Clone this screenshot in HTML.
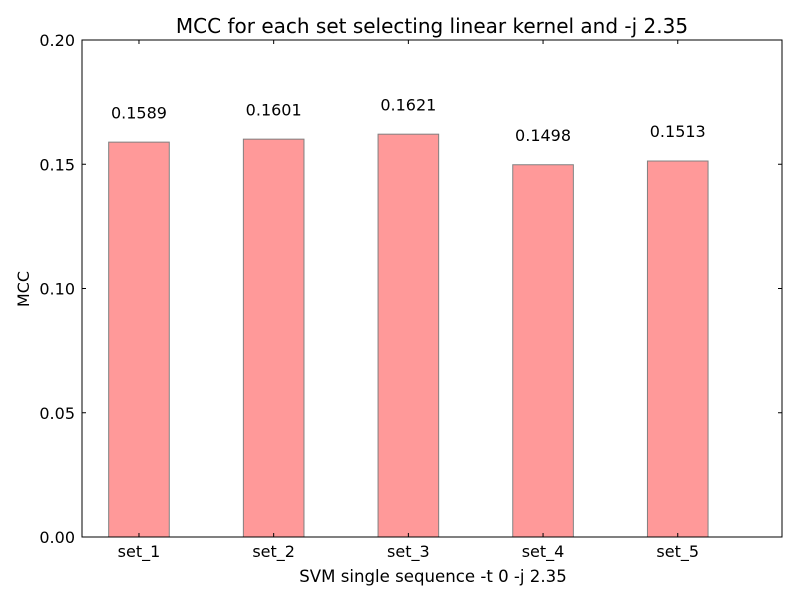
<!DOCTYPE html>
<html><head><meta charset="utf-8"><style>
body{margin:0;background:#fff}
svg{font-family:"DejaVu Sans","Liberation Sans",sans-serif}
</style></head><body>
<svg id="chart" width="800" height="600"></svg>
<script>
const categories=["set_1","set_2","set_3","set_4","set_5"];
const values=[0.1589,0.1601,0.1621,0.1498,0.1513];
const valueLabels=["0.1589","0.1601","0.1621","0.1498","0.1513"];
const yTicks=[0,0.05,0.10,0.15,0.20];
const yTickLabels=["0.00","0.05","0.10","0.15","0.20"];

const L=82,R=782,T=40,B=537;
const xMin=-0.423,xMax=4.774,yMin=0,yMax=0.2,barW=0.45;
const xs=v=>L+(v-xMin)/(xMax-xMin)*(R-L);
const ys=v=>B-(v-yMin)/(yMax-yMin)*(B-T);
const svg=document.getElementById('chart');
const NS='http://www.w3.org/2000/svg';
function mk(tag,attrs,parent){const e=document.createElementNS(NS,tag);for(const k in attrs)e.setAttribute(k,attrs[k]);(parent||svg).appendChild(e);return e;}

categories.forEach((c,i)=>{
  const r=mk('rect',{x:xs(i-barW/2),y:ys(values[i]),width:xs(i+barW/2)-xs(i-barW/2),height:ys(0)-ys(values[i]),fill:'#ff9999',stroke:'#808080','stroke-width':1});
  
  
  const t=mk('text',{x:xs(i),y:ys(values[i]+0.01)+1,'text-anchor':'middle','font-size':16});
  t.textContent=valueLabels[i];
  
  
  mk('line',{x1:xs(i),x2:xs(i),y1:B,y2:B-4,stroke:'#000'});
  mk('line',{x1:xs(i),x2:xs(i),y1:T,y2:T+4,stroke:'#000'});
  const xl=mk('text',{x:xs(i),y:B+20,'text-anchor':'middle','font-size':16});
  xl.textContent=c;
  
  
});
yTicks.forEach((v,i)=>{
  mk('line',{x1:L,x2:L+4,y1:ys(v),y2:ys(v),stroke:'#000'});
  mk('line',{x1:R,x2:R-4,y1:ys(v),y2:ys(v),stroke:'#000'});
  const t=mk('text',{x:L-7,y:ys(v)+6,'text-anchor':'end','font-size':16});
  t.textContent=yTickLabels[i];
  
  
});
const f=mk('rect',{x:L,y:T,width:R-L,height:B-T,fill:'none',stroke:'#000','stroke-width':1});


const title=mk('text',{x:432,y:33,'text-anchor':'middle','font-size':20});
title.textContent='MCC for each set selecting linear kernel and -j 2.35';


const xt=mk('text',{x:433,y:582,'text-anchor':'middle','font-size':16.6});
xt.textContent='SVM single sequence -t 0 -j 2.35';


const yt=mk('text',{x:29,y:289,'text-anchor':'middle','font-size':16,transform:'rotate(-90 29 289)'});
yt.textContent='MCC';


</script>
</body></html>
